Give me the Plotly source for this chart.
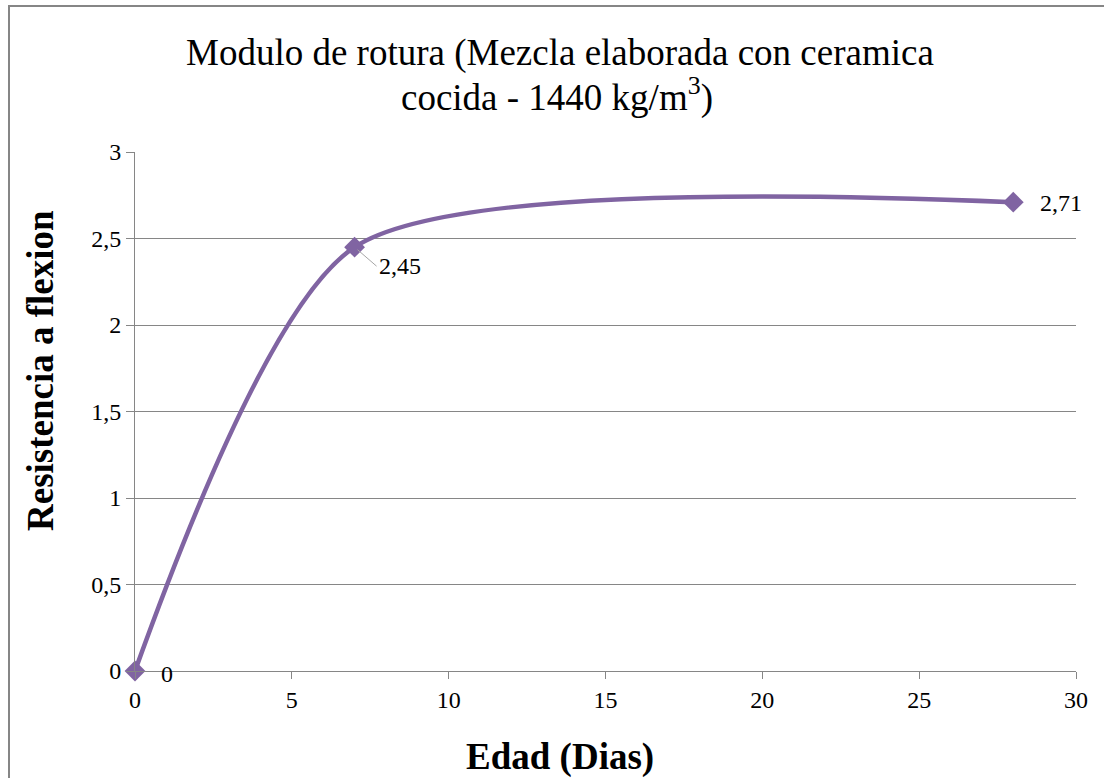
import plotly.graph_objects as go

edad = [0, 7, 28]
resistencia = [0, 2.45, 2.71]
labels = ["0", "2,45", "2,71"]
x_ticks = [0, 5, 10, 15, 20, 25, 30]
y_ticks = [0, 0.5, 1, 1.5, 2, 2.5, 3]
y_tick_text = ["0", "0,5", "1", "1,5", "2", "2,5", "3"]
title_lines = ["Modulo de rotura (Mezcla elaborada con ceramica", "cocida - 1440 kg/m<sup>3</sup>)"]
x_title = "Edad (Dias)"
y_title = "Resistencia a flexion"

purple = "#8064A2"
gray = "#868686"
font_family = "Liberation Serif"

W, H = 1104, 778
L, R, T, B = 135, 28, 152, 107
pw, ph = W - L - R, H - T - B

fig = go.Figure()
fig.add_trace(go.Scatter(
    x=edad, y=resistencia, mode="lines+markers",
    line=dict(color=purple, width=4.5, shape="spline", smoothing=0.7),
    marker=dict(symbol="diamond", size=16, color=purple),
    showlegend=False, hoverinfo="skip", cliponaxis=False,
))

lab_font = dict(family=font_family, size=24, color="black")
# data labels
fig.add_annotation(x=edad[0], y=resistencia[0], text=labels[0], showarrow=False,
                   xanchor="left", yanchor="middle", xshift=24, yshift=-3, font=lab_font)
fig.add_annotation(x=edad[1], y=resistencia[1], text=labels[1], showarrow=True,
                   arrowhead=0, arrowwidth=1, arrowcolor="#A6A6A6", standoff=4,
                   ax=22, ay=19, xanchor="left", yanchor="middle", font=lab_font)
fig.add_annotation(x=edad[2], y=resistencia[2], text=labels[2], showarrow=False,
                   xanchor="left", yanchor="middle", xshift=25, yshift=-1, font=lab_font)

# chart title (two lines)
title_font = dict(family=font_family, size=37, color="black")
fig.add_annotation(xref="paper", yref="paper", x=(560 - L) / pw, y=1 + (T - 53) / ph,
                   text=title_lines[0], showarrow=False, xanchor="center", yanchor="middle",
                   font=title_font)
fig.add_annotation(xref="paper", yref="paper", x=(557 - L) / pw, y=1 + (T - 95) / ph,
                   text=title_lines[1], showarrow=False, xanchor="center", yanchor="middle",
                   font=title_font)

# axis titles
axt_font = dict(family=font_family, size=37, color="black")
fig.add_annotation(xref="paper", yref="paper", x=(560 - L) / pw, y=-(757 - (H - B)) / ph,
                   text="<b>%s</b>" % x_title, showarrow=False, xanchor="center", yanchor="middle",
                   font=axt_font)
fig.add_annotation(xref="paper", yref="paper", x=(40 - L) / pw, y=((H - B) - 371) / ph,
                   text="<b>%s</b>" % y_title, showarrow=False, xanchor="center", yanchor="middle",
                   textangle=-90, font=axt_font)

# outer chart border
fig.add_shape(type="rect", xref="paper", yref="paper",
              x0=(9 - L) / pw, x1=(W + 20 - L) / pw,
              y0=1 + (T - 6) / ph, y1=-(B + 20) / ph,
              line=dict(color=gray, width=2), fillcolor="rgba(0,0,0,0)", layer="below")

fig.update_layout(
    width=W, height=H,
    margin=dict(l=L, r=R, t=T, b=B),
    paper_bgcolor="white", plot_bgcolor="white",
    separators=", ",
    font=dict(family=font_family, color="black"),
)
fig.update_xaxes(range=[0, 30], tickvals=x_ticks, ticktext=[str(v) for v in x_ticks],
                 showgrid=False, showline=True, linecolor=gray, linewidth=1,
                 ticks="outside", ticklen=7, tickcolor=gray,
                 tickfont=dict(size=24, family=font_family, color="black"),
                 zeroline=False, automargin=False)
fig.update_yaxes(range=[0, 3], tickvals=y_ticks, ticktext=y_tick_text,
                 showgrid=True, gridcolor=gray, gridwidth=1,
                 showline=True, linecolor=gray, linewidth=1,
                 ticks="outside", ticklen=8, tickcolor=gray,
                 tickfont=dict(size=24, family=font_family, color="black"),
                 zeroline=False, automargin=False)

fig.write_html("out.html", config={"displayModeBar": False},
               post_script="document.body.style.margin='0';")
